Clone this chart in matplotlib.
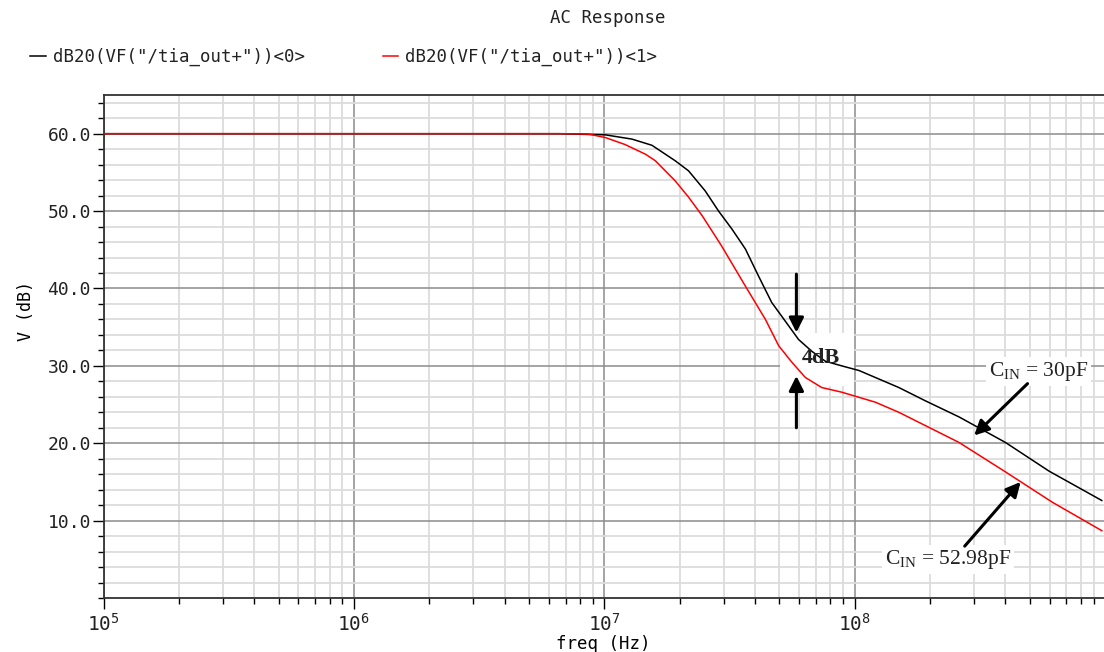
import matplotlib
matplotlib.use('Agg')
import matplotlib.pyplot as plt
from matplotlib.patches import Rectangle
from matplotlib.ticker import LogLocator, FixedLocator, MultipleLocator, NullFormatter

# Data (freq in Hz, gain in dB)
freq_0 = [1e5, 6.57e6, 1.01e7, 1.29e7, 1.55e7, 1.92e7, 2.17e7, 2.53e7, 2.86e7,
          3.23e7, 3.66e7, 4.13e7, 4.66e7, 5.44e7, 5.97e7, 6.73e7, 7.63e7,
          8.87e7, 1.04e8, 1.50e8, 1.91e8, 2.61e8, 4.00e8, 5.97e8, 9.70e8]
gain_0 = [60.0, 60.0, 59.85, 59.3, 58.5, 56.5, 55.2, 52.6, 50.0,
          47.7, 45.1, 41.6, 38.2, 35.2, 33.4, 31.9, 30.6,
          30.0, 29.4, 27.2, 25.5, 23.4, 20.1, 16.4, 12.6]

freq_1 = [1e5, 6.8e6, 8.65e6, 1.01e7, 1.21e7, 1.46e7, 1.60e7, 1.92e7, 2.17e7,
          2.46e7, 2.94e7, 3.66e7, 4.40e7, 4.97e7, 5.60e7, 6.35e7, 7.38e7,
          8.87e7, 1.21e8, 1.50e8, 2.61e8, 4.00e8, 6.14e8, 9.70e8]
gain_1 = [60.0, 60.0, 59.95, 59.5, 58.6, 57.35, 56.5, 53.9, 51.8,
          49.4, 45.5, 40.3, 36.0, 32.6, 30.5, 28.5, 27.2,
          26.6, 25.3, 24.0, 20.1, 16.3, 12.4, 8.7]

labels = ['dB20(VF("/tia_out+"))<0>', 'dB20(VF("/tia_out+"))<1>']
y_ticks = [10, 20, 30, 40, 50, 60]

plt.rcParams['font.family'] = 'DejaVu Sans Mono'
plt.rcParams['mathtext.fontset'] = 'custom'
plt.rcParams['mathtext.rm'] = 'DejaVu Sans Mono'
plt.rcParams['text.color'] = '#222222'

fig = plt.figure(figsize=(11.04, 6.52), dpi=100)
ax = fig.add_axes([103.5 / 1104, 54 / 652, 1 - 103.5 / 1104, 503 / 652])

ax.set_xscale('log')
ax.set_xlim(1e5, 9.9e8)
ax.set_ylim(0, 65)

# Grid
ax.set_axisbelow(True)
ax.xaxis.set_major_locator(LogLocator(base=10, numticks=10))
ax.xaxis.set_major_formatter(plt.FuncFormatter(
    lambda v, p: r'$\mathregular{10^{%d}}$' % round(__import__('math').log10(v))))
ax.xaxis.set_minor_locator(LogLocator(base=10, subs=range(2, 10), numticks=100))
ax.xaxis.set_minor_formatter(NullFormatter())
ax.yaxis.set_major_locator(FixedLocator(y_ticks))
ax.yaxis.set_minor_locator(MultipleLocator(2))
ax.yaxis.set_major_formatter(plt.FuncFormatter(lambda v, p: '%.1f' % v))
ax.grid(which='major', color='#8c8c8c', linewidth=1.1)
ax.grid(which='minor', color='#dcdcdc', linewidth=1.3)

# Curves
l0, = ax.plot(freq_0, gain_0, color='black', linewidth=1.1, zorder=3, label=labels[0])
l1, = ax.plot(freq_1, gain_1, color='red', linewidth=1.1, zorder=3, label=labels[1])

# Ticks / spines
ax.tick_params(which='major', direction='out', length=8, width=1, labelsize=13,
               pad=1, labelcolor='#222222')
ax.tick_params(which='minor', direction='out', length=4, width=1)
ax.tick_params(axis='x', which='major', labelsize=14, pad=3)
for s in ['left', 'bottom', 'top']:
    ax.spines[s].set_color('#333333')
    ax.spines[s].set_linewidth(1.3)
ax.spines['right'].set_visible(False)

ax.set_xlabel('freq (Hz)', fontsize=12.5, labelpad=0)
ax.set_ylabel('V (dB)', fontsize=12)
ax.yaxis.set_label_coords(-0.068, 0.57)

# Title and legend
fig.text(608 / 1104, 1 - 18 / 652, 'AC Response', ha='center', va='center', fontsize=12.5)
fig.legend(handles=[l0, l1], labels=labels, loc='center left',
           bbox_to_anchor=(30 / 1104, 1 - 57 / 652), ncol=2, frameon=False,
           fontsize=12.5, handlelength=0.9, handletextpad=0.4, columnspacing=4.5,
           borderpad=0, borderaxespad=0)

# Annotations
ax.add_patch(Rectangle((5.05e7, 27.4), 4.85e7, 6.9, facecolor='white',
                       edgecolor='none', zorder=1))
ax.text(7.35e7, 31.0, '4dB', ha='center', va='center', fontsize=16,
        fontweight='bold', family='Liberation Serif', zorder=4)
arrow_kw = dict(arrowstyle='-|>', color='black', lw=2.2, mutation_scale=22,
                shrinkA=0, shrinkB=0)
ax.annotate('', xy=(5.85e7, 34.3), xytext=(5.85e7, 41.85), arrowprops=arrow_kw, zorder=4)
ax.annotate('', xy=(5.85e7, 28.7), xytext=(5.85e7, 22.0), arrowprops=arrow_kw, zorder=4)

ax.text(5.43e8, 29.3, r'C$_{\mathregular{IN}}$ = 30pF', ha='center', va='center',
        fontsize=15.5, family='Liberation Serif', zorder=4,
        bbox=dict(facecolor='white', edgecolor='none', pad=2))
ax.annotate('', xy=(3.0e8, 21.0), xytext=(4.9e8, 27.7), arrowprops=arrow_kw, zorder=4)

ax.text(2.36e8, 5.0, r'C$_{\mathregular{IN}}$ = 52.98pF', ha='center', va='center',
        fontsize=15.5, family='Liberation Serif', zorder=4,
        bbox=dict(facecolor='white', edgecolor='none', pad=2))
ax.annotate('', xy=(4.6e8, 15.0), xytext=(2.75e8, 6.7), arrowprops=arrow_kw, zorder=4)

fig.savefig('out.png', dpi=100)
